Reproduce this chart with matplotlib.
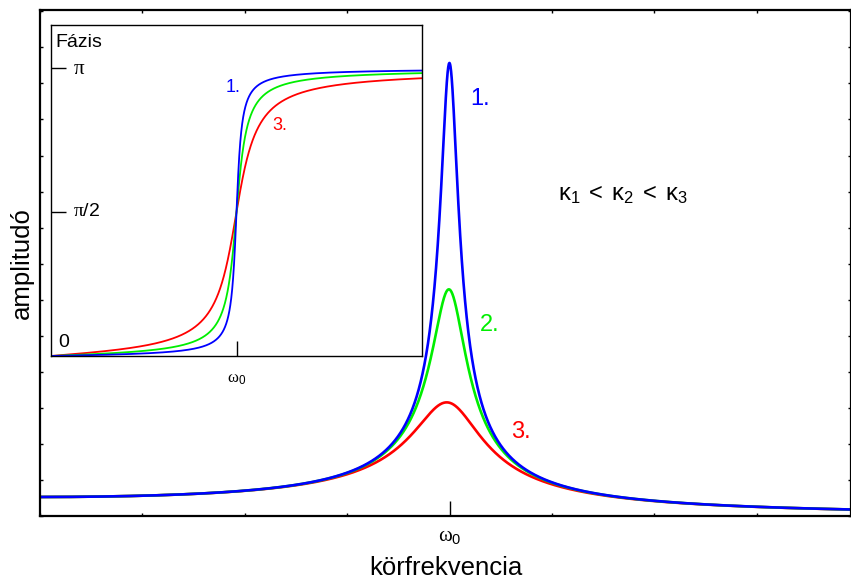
import numpy as np
import matplotlib
matplotlib.use("Agg")
import matplotlib.pyplot as plt

plt.rcParams["font.family"] = ["Liberation Sans", "DejaVu Sans"]
plt.rcParams["mathtext.fontset"] = "custom"
plt.rcParams["mathtext.rm"] = "Liberation Serif"
plt.rcParams["mathtext.sf"] = "Liberation Sans"
plt.rcParams["mathtext.it"] = "Liberation Serif:italic"

# damping constants (omega0 = 1, F/m = 1)
kappas = [0.021, 0.042, 0.084]
curve_labels = ["1.", "2.", "3."]
colors = ["#0000ff", "#00ee00", "#ff0000"]
# label positions (omega, amplitude) in the main plot
label_w = [1.05, 1.073, 1.151]
label_a = [21.9, 10.05, 4.42]
# labels in the phase inset (only 1. and 3.)
inset_lab_w = [0.943, 1.191]
inset_lab_phi = [2.934, 2.509]

w_main = np.linspace(0, 1.98, 4000)
w_inset = np.linspace(0, 2.0, 4000)

fig = plt.figure(figsize=(8.51, 5.82), dpi=100)
ax = fig.add_axes([40 / 851, 66 / 582, 811 / 851, 506 / 582])

# draw red, green, blue so blue ends on top
for k, c in list(zip(kappas, colors))[::-1]:
    amp = 1.0 / np.sqrt((1 - w_main ** 2) ** 2 + 4 * k ** 2 * w_main ** 2)
    ax.plot(w_main, amp, color=c, lw=1.9)

ax.set_xlim(0, 1.98)
ax.set_ylim(0, 26.6)
for s in ax.spines.values():
    s.set_linewidth(1.6)

ax.set_xticks([1.0])
ax.set_xticklabels([r"$\mathrm{\omega}_{\mathsf{0}}$"], fontsize=15)
ax.set_xticks(np.arange(0, 2.0, 0.25), minor=True)
ax.set_yticks([])
ax.set_yticks(np.arange(0, 26.6, 1.895), minor=True)
ax.tick_params(which="major", axis="x", direction="in", length=10.8, width=1,
               pad=8, top=False)
ax.tick_params(which="minor", direction="in", length=2.3, width=1,
               top=True, bottom=True, left=True, right=True)

ax.set_xlabel("körfrekvencia", fontsize=18.5, labelpad=7)
ax.set_ylabel("amplitudó", fontsize=18.5, labelpad=1)

for lw_, la, t, c in zip(label_w, label_a, curve_labels, colors):
    ax.text(lw_, la, t, color=c, fontsize=17, ha="left", va="center")

ax.text((558 - 40) / 811, (516 - 195) / 506,
        r"$\mathsf{\kappa}_{\mathsf{1}}\ \mathsf{<}\ \mathsf{\kappa}_{\mathsf{2}}\ \mathsf{<}\ \mathsf{\kappa}_{\mathsf{3}}$",
        transform=ax.transAxes, fontsize=17, ha="left", va="center")

# phase inset
ins = fig.add_axes([51 / 851, 226 / 582, 371 / 851, 331 / 582])
for k, c in list(zip(kappas, colors))[::-1]:
    phi = np.arctan2(2 * k * w_inset, 1 - w_inset ** 2)
    ins.plot(w_inset, phi, color=c, lw=1.3)

ins.set_xlim(0, 2.0)
ins.set_ylim(0, np.pi * 331 / 288)
for s in ins.spines.values():
    s.set_linewidth(1.0)
ins.set_xticks([1.0])
ins.set_xticklabels([])
ins.set_yticks([np.pi / 2, np.pi])
ins.set_yticklabels([])
ins.tick_params(direction="in", length=10.8, width=1)

tr = ins.get_yaxis_transform()
ins.text(0.059, np.pi, r"$\mathrm{\pi}$", transform=tr, fontsize=15,
         ha="left", va="center")
ins.text(0.059, np.pi / 2, r"$\mathrm{\pi}$/2", transform=tr, fontsize=14,
         ha="left", va="center")
ins.text(0.019, 0.15, "0", transform=tr, fontsize=14, ha="left", va="center")
ins.text(0.011, 0.946, "Fázis", transform=ins.transAxes, fontsize=14,
         ha="left", va="center")
ins.text(1.0, -0.07, r"$\mathrm{\omega}_{\mathsf{0}}$",
         transform=ins.get_xaxis_transform(), fontsize=12,
         ha="center", va="center")
for x_, y_, t, c in zip(inset_lab_w, inset_lab_phi, ["1.", "3."],
                        [colors[0], colors[2]]):
    ins.text(x_, y_, t, color=c, fontsize=13, ha="left", va="center")

fig.savefig("out.png", dpi=100)
